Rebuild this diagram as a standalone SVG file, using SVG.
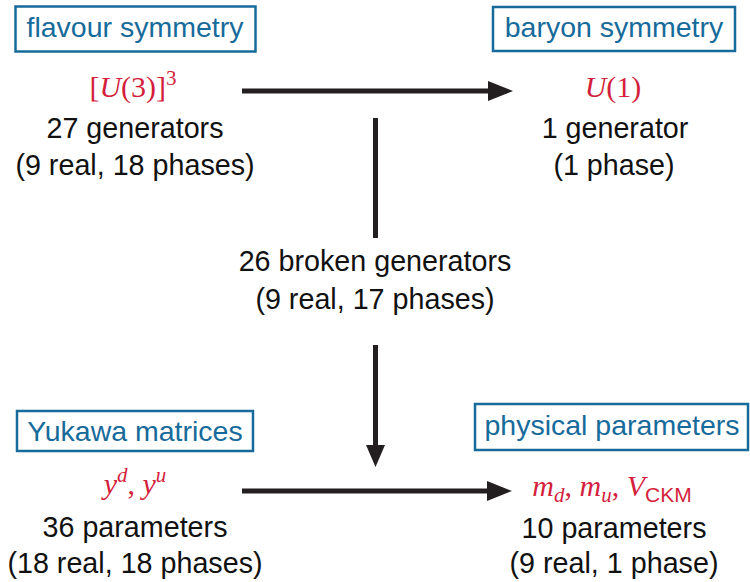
<svg xmlns="http://www.w3.org/2000/svg" width="750" height="582" viewBox="0 0 750 582">
<defs>
<style>
.box{fill:#fff;stroke:#176b9b;stroke-width:2.5}
.bt{font-family:"Liberation Sans",Arial,sans-serif;font-size:28.5px;fill:#176b9b;text-anchor:middle}
.t{font-family:"Liberation Sans",Arial,sans-serif;font-size:28.7px;fill:#111;text-anchor:middle}
.m{font-family:"Liberation Serif","Times New Roman",serif;font-size:30px;fill:#d41f3c;text-anchor:middle}
.i{font-style:italic}
.sf{font-family:"Liberation Sans",Arial,sans-serif}
.ln{stroke:#231f20;stroke-width:5;fill:none}
</style>
</defs>
<rect width="750" height="582" fill="#fff"/>
<g id="connectors">
<line class="ln" x1="242" y1="91" x2="490" y2="91"/>
<path d="M488,81 L513,91 L488,101 Z" fill="#231f20"/>
<line class="ln" x1="375.5" y1="118" x2="375.5" y2="238"/>
<line class="ln" x1="375.5" y1="345" x2="375.5" y2="447"/>
<path d="M366,445 L375.5,467 L385,445 Z" fill="#231f20"/>
<line class="ln" x1="242" y1="491" x2="490" y2="491"/>
<path d="M487,481 L512,491 L487,501 Z" fill="#231f20"/>
</g>
<g id="flavour">
<rect class="box" x="15.5" y="6.5" width="240" height="45"/>
<text class="bt" x="135" y="37">flavour symmetry</text>
<text class="m" x="133" y="97">[<tspan class="i">U</tspan>(3)]<tspan font-size="21" dy="-12">3</tspan></text>
<text class="t" x="135" y="138">27 generators</text>
<text class="t" x="135" y="175">(9 real, 18 phases)</text>
</g>
<g id="baryon">
<rect class="box" x="493" y="7" width="242" height="44"/>
<text class="bt" x="614" y="37">baryon symmetry</text>
<text class="m" x="613" y="97"><tspan class="i">U</tspan>(1)</text>
<text class="t" x="615" y="138">1 generator</text>
<text class="t" x="614" y="175">(1 phase)</text>
</g>
<g id="broken">
<text class="t" x="375" y="271">26 broken generators</text>
<text class="t" x="375" y="309">(9 real, 17 phases)</text>
</g>
<g id="yukawa">
<rect class="box" x="17" y="411" width="236" height="40"/>
<text class="bt" x="135" y="441">Yukawa matrices</text>
<text class="m" x="135" y="494"><tspan class="i">y</tspan><tspan class="i" font-size="21" dy="-12">d</tspan><tspan dy="12">, </tspan><tspan class="i">y</tspan><tspan class="i" font-size="21" dy="-12">u</tspan></text>
<text class="t" x="135" y="537">36 parameters</text>
<text class="t" x="135" y="573">(18 real, 18 phases)</text>
</g>
<g id="physical">
<rect class="box" x="475" y="404" width="273" height="46"/>
<text class="bt" x="612" y="435">physical parameters</text>
<text class="m" x="612" y="496"><tspan class="i">m</tspan><tspan class="i" font-size="21" dy="6">d</tspan><tspan dy="-6">, </tspan><tspan class="i">m</tspan><tspan class="i" font-size="21" dy="6">u</tspan><tspan dy="-6">, </tspan><tspan class="i">V</tspan><tspan class="sf" font-size="21" dy="6">CKM</tspan></text>
<text class="t" x="614" y="538">10 parameters</text>
<text class="t" x="614" y="573">(9 real, 1 phase)</text>
</g>
</svg>
